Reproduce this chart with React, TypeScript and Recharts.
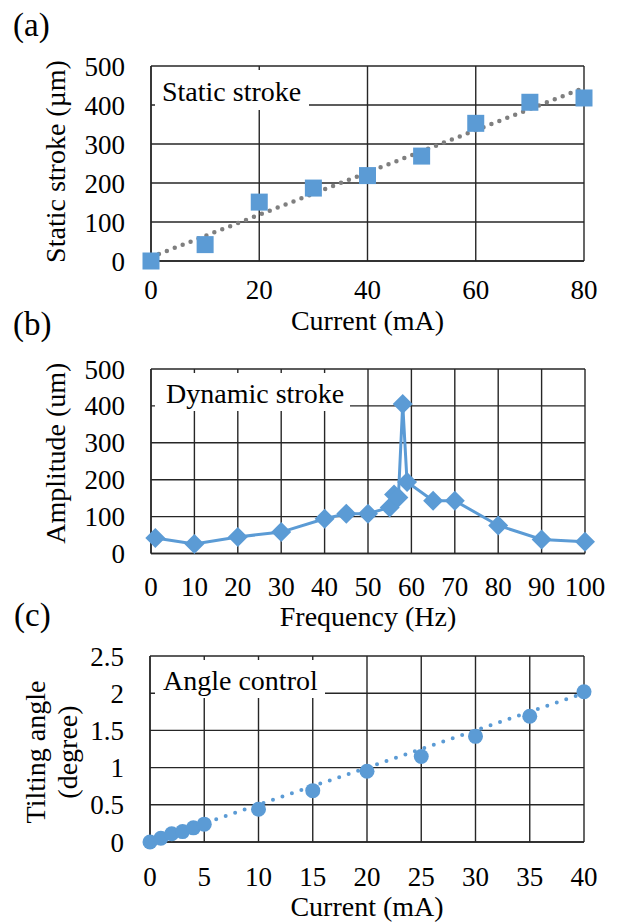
import { ComposedChart, Line, XAxis, YAxis, CartesianGrid, Legend, Label } from 'recharts'

const BLUE = '#5B9BD5'
const GRID = '#262626'
const TREND_GRAY = '#7F7F7F'
const FONT = "'Liberation Serif', 'Times New Roman', serif"

// (a) static stroke vs current
const staticCurrent = [0, 10, 20, 30, 40, 50, 60, 70, 80]
const staticStroke = [0, 42, 151, 187, 219, 269, 353, 407, 418]
const staticTrendCurrent = [0, 80]
const staticTrendStroke = [10, 444]
const staticXTicks = [0, 20, 40, 60, 80]
const strokeYTicks = [0, 100, 200, 300, 400, 500]

// (b) dynamic stroke vs frequency
const dynFreq = [1, 10, 20, 30, 40, 45, 50, 55, 56, 57, 58, 59, 65, 70, 80, 90, 100]
const dynAmp = [42, 26, 45, 58, 94, 108, 108, 125, 160, 152, 405, 194, 143, 143, 76, 38, 32]
const freqTicks = [0, 10, 20, 30, 40, 50, 60, 70, 80, 90, 100]
const ampTicks = [0, 100, 200, 300, 400, 500]

// (c) tilting angle vs current
const angleCurrent = [0, 1, 2, 3, 4, 5, 10, 15, 20, 25, 30, 35, 40]
const angleDeg = [0, 0.05, 0.11, 0.14, 0.19, 0.24, 0.44, 0.69, 0.95, 1.15, 1.42, 1.69, 2.02]
const angleTrendCurrent = [0, 40]
const angleTrendDeg = [0, 2.0]
const angleXTicks = [0, 5, 10, 15, 20, 25, 30, 35, 40]
const angleYTicks = [0, 0.5, 1, 1.5, 2, 2.5]

const zip = (xs: number[], ys: number[]) => xs.map((x, i) => ({ x, y: ys[i] }))

const tickStyle = { fill: '#000', fontSize: 27 }
const axisLine = { stroke: GRID, strokeWidth: 1.4 }

const squareDot = (p: any) => (
  <rect key={`sq-${p.index}`} x={p.cx - 8.5} y={p.cy - 8.5} width={17} height={17} fill={BLUE} />
)
const diamondDot = (p: any) => (
  <polygon
    key={`dm-${p.index}`}
    points={`${p.cx},${p.cy - 10} ${p.cx + 10},${p.cy} ${p.cx},${p.cy + 10} ${p.cx - 10},${p.cy}`}
    fill={BLUE}
  />
)
const circleDot = (p: any) => <circle key={`ci-${p.index}`} cx={p.cx} cy={p.cy} r={7.5} fill={BLUE} />

// rotated y-axis title, one or more lines
const yTitle = (lines: string[], xs: number[], shift: number) => (props: any) => {
  const vb = props.viewBox
  const cy = vb.y + vb.height / 2 + shift
  return (
    <g>
      {lines.map((t, i) => (
        <text key={t} x={xs[i]} y={cy} dy="0.355em" textAnchor="middle" fontSize={28} fill="#000"
          transform={`rotate(-90 ${xs[i]} ${cy})`}>{t}</text>
      ))}
    </g>
  )
}

const legendBox = (text: string, padLeft: number, lineH: number) => () => (
  <div style={{ background: '#fff', paddingLeft: padLeft, paddingTop: 3, height: lineH, lineHeight: `${lineH}px`,
    fontSize: 28, color: '#000', whiteSpace: 'nowrap', fontFamily: FONT }}>{text}</div>
)

function StaticChart() {
  return (
    <ComposedChart width={619} height={340} margin={{ top: 66, right: 35, bottom: 10, left: 0 }}>
      <CartesianGrid stroke={GRID} strokeWidth={1.4} />
      <XAxis dataKey="x" type="number" domain={[0, 80]} ticks={staticXTicks} interval={0} height={69}
        axisLine={axisLine} tickLine={false} tickSize={6} tickMargin={13} tick={tickStyle}>
        <Label value="Current (mA)" position="insideBottom" offset={0} fontSize={28} fill="#000" />
      </XAxis>
      <YAxis type="number" domain={[0, 500]} ticks={strokeYTicks} interval={0} width={151}
        axisLine={axisLine} tickLine={false} tickSize={6} tickMargin={20} tick={tickStyle}>
        <Label content={yTitle(['Static stroke (µm)'], [55], -2)} />
      </YAxis>
      <Legend layout="vertical" align="center" verticalAlign="middle" width={154} height={40}
        wrapperStyle={{ left: 155, top: 70 }} content={legendBox('Static stroke', 7, 37)} />
      <Line data={zip(staticCurrent, staticStroke)} dataKey="y" stroke="none" dot={squareDot}
        activeDot={false} isAnimationActive={false} legendType="none" />
      <Line data={zip(staticTrendCurrent, staticTrendStroke)} dataKey="y" stroke={TREND_GRAY} strokeWidth={4.5}
        strokeDasharray="0 8.5" strokeLinecap="round" dot={false} activeDot={false}
        isAnimationActive={false} legendType="none" />
    </ComposedChart>
  )
}

function DynamicChart() {
  return (
    <ComposedChart width={619} height={300} margin={{ top: 29, right: 34, bottom: 14, left: 0 }}>
      <CartesianGrid stroke={GRID} strokeWidth={1.4} />
      <XAxis dataKey="x" type="number" domain={[0, 100]} ticks={freqTicks} interval={0} height={72.5}
        axisLine={axisLine} tickLine={false} tickSize={6} tickMargin={17} tick={tickStyle}>
        <Label value="Frequency (Hz)" position="insideBottom" offset={0} fontSize={28} fill="#000" />
      </XAxis>
      <YAxis type="number" domain={[0, 500]} ticks={ampTicks} interval={0} width={151}
        axisLine={axisLine} tickLine={false} tickSize={6} tickMargin={20} tick={tickStyle}>
        <Label content={yTitle(['Amplitude (um)'], [55], -8)} />
      </YAxis>
      <Legend layout="vertical" align="center" verticalAlign="middle" width={195} height={38}
        wrapperStyle={{ left: 155, top: 33 }} content={legendBox('Dynamic stroke', 11, 35)} />
      <Line data={zip(dynFreq, dynAmp)} dataKey="y" stroke={BLUE} strokeWidth={3} dot={diamondDot}
        activeDot={false} isAnimationActive={false} legendType="none" />
    </ComposedChart>
  )
}

function AngleChart() {
  return (
    <ComposedChart width={619} height={282} margin={{ top: 16, right: 35, bottom: 6, left: 0 }}>
      <CartesianGrid stroke={GRID} strokeWidth={1.4} />
      <XAxis dataKey="x" type="number" domain={[0, 40]} ticks={angleXTicks} interval={0} height={74}
        axisLine={axisLine} tickLine={false} tickSize={6} tickMargin={19} tick={tickStyle}>
        <Label value="Current (mA)" position="insideBottom" offset={0} fontSize={28} fill="#000" />
      </XAxis>
      <YAxis type="number" domain={[0, 2.5]} ticks={angleYTicks} interval={0} width={150}
        axisLine={axisLine} tickLine={false} tickSize={6} tickMargin={20} tick={tickStyle}>
        <Label content={yTitle(['Tilting angle', '(degree)'], [35, 67], 3)} />
      </YAxis>
      <Legend layout="vertical" align="center" verticalAlign="middle" width={170} height={38}
        wrapperStyle={{ left: 155, top: 20 }} content={legendBox('Angle control', 8, 35)} />
      <Line data={zip(angleCurrent, angleDeg)} dataKey="y" stroke="none" dot={circleDot}
        activeDot={false} isAnimationActive={false} legendType="none" />
      <Line data={zip(angleTrendCurrent, angleTrendDeg)} dataKey="y" stroke={BLUE} strokeWidth={4}
        strokeDasharray="0 10" strokeLinecap="round" dot={false} activeDot={false}
        isAnimationActive={false} legendType="none" />
    </ComposedChart>
  )
}

export default function App() {
  return (
    <div style={{ position: 'absolute', left: 0, top: 0, width: 619, height: 922, background: '#fff', fontFamily: FONT }}>
      <div style={{ position: 'absolute', left: 0, top: 0 }}><StaticChart /></div>
      <div style={{ position: 'absolute', left: 0, top: 340 }}><DynamicChart /></div>
      <div style={{ position: 'absolute', left: 0, top: 640 }}><AngleChart /></div>
      <svg width={619} height={922} style={{ position: 'absolute', left: 0, top: 0, pointerEvents: 'none' }}>
        <text x={13} y={36} fontSize={33} fill="#000">(a)</text>
        <text x={13} y={335} fontSize={33} fill="#000">(b)</text>
        <text x={14} y={626} fontSize={33} fill="#000">(c)</text>
      </svg>
    </div>
  )
}
